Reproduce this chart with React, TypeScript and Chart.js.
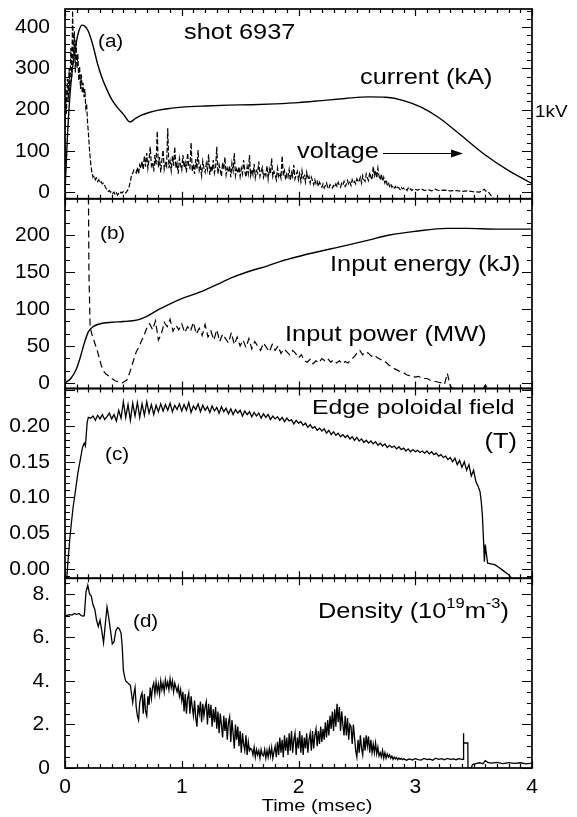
import { useEffect, useRef } from "react";
import { Chart, registerables } from "chart.js";
Chart.register(...registerables);

const FONT = "'Liberation Sans', Arial, Helvetica, sans-serif";
const SX = 1.18; // horizontal stretch of annotation text

// ---------- shared x axis ----------
const X_TICKS = [0, 1, 2, 3, 4];
const X_LABELS = ["0", "1", "2", "3", "4"];

// ---------- panel (a) ----------
const A_TICKS = [0, 100, 200, 300, 400];
const CURRENT_T = [0, 0.02, 0.04, 0.06, 0.08, 0.10, 0.12, 0.145, 0.17, 0.20, 0.24, 0.28, 0.32, 0.36, 0.40, 0.45, 0.50, 0.557, 0.60, 0.65, 0.72, 0.80, 0.90, 1.0, 1.2, 1.4, 1.6, 1.8, 2.0, 2.2, 2.4, 2.6, 2.75, 2.9, 3.05, 3.2, 3.4, 3.6, 3.8, 4.0];
const CURRENT_KA = [0, 130, 225, 290, 335, 368, 392, 405, 402, 390, 355, 310, 275, 248, 225, 205, 189, 170, 178, 186, 193, 199, 203, 206, 209, 211, 212, 214, 217, 222, 227, 231, 230, 222, 206, 181, 136, 90, 52, 21];

const VOLT_EARLY_T = [0, 0.005, 0.012, 0.02, 0.028, 0.035, 0.042, 0.05, 0.058, 0.065, 0.072, 0.08, 0.088, 0.095, 0.103, 0.11, 0.118, 0.125, 0.133, 0.14, 0.148, 0.155, 0.163, 0.17, 0.178, 0.185, 0.193, 0.2,
  0.21, 0.22, 0.23, 0.24, 0.25, 0.26, 0.27, 0.28, 0.29, 0.30,
  0.31, 0.32, 0.33, 0.34, 0.35, 0.36, 0.37, 0.38, 0.39, 0.40,
  0.41, 0.42, 0.43, 0.44, 0.45, 0.46, 0.47, 0.48, 0.49, 0.50,
  0.51, 0.52, 0.53, 0.54, 0.55, 0.56, 0.57, 0.58, 0.59];
const VOLT_EARLY = [0, 250, 190, 275, 220, 300, 240, 350, 280, 440, 310, 390, 290, 370, 300, 335, 270, 305, 250, 285, 240, 265, 230, 250, 205, 215, 170, 145,
  102, 70, 48, 36, 40, 30, 34, 26, 30, 22,
  25, 20, 22, 16, 10, 6, 2, 4, 0, 2,
  -3, 0, -6, -2, -7, -3, -5, 0, -2, 2,
  0, -2, 2, 6, 14, 26, 42, 46, 54];
const VOLT_NOISE_T0 = 0.6;
const VOLT_NOISE_DT = 0.01;
const VOLT_NOISE = [
  52, 47, 60, 44, 66, 58, 75, 55, 88, 62,
  95, 58, 80, 110, 64, 72, 50, 90, 66, 148,
  60, 85, 48, 78, 102, 55, 70, 62, 155, 58,
  75, 52, 88, 64, 110, 58, 70, 45, 82, 66,
  54, 90, 60, 72, 48, 95, 62, 58, 120, 50,
  68, 44, 80, 56, 102, 52, 62, 40, 75, 58,
  48, 70, 55, 92, 42, 64, 50, 78, 46, 60,
  110, 44, 66, 52, 38, 72, 55, 85, 42, 58,
  48, 64, 36, 70, 52, 95, 40, 56, 46, 62,
  38, 58, 44, 78, 50, 36, 62, 45, 90, 40,
  55, 42, 68, 35, 52, 46, 74, 38, 50, 60,
  36, 48, 40, 64, 32, 56, 44, 82, 38, 50,
  42, 30, 58, 38, 46, 34, 88, 40, 52, 30,
  44, 36, 55, 28, 48, 38, 66, 32, 42, 50,
  30, 45, 26, 52, 34, 40, 24, 48, 32, 38,
  22, 36, 28, 18, 30, 20, 26, 14, 24, 18,
  12, 20, 10, 16, 22, 12, 8, 18, 14, 10,
  16, 12, 20, 14, 24, 16, 12, 22, 18, 26,
  14, 20, 28, 18, 24, 16, 30, 22, 26, 20,
  32, 24, 28, 36, 22, 40, 30, 26, 44, 34,
  28, 48, 36, 30, 62, 40, 52, 34, 58, 38,
  30, 44, 26, 36, 22, 30, 18, 24, 14, 20,
  12, 16, 10, 14, 8, 12, 10, 6, 12, 8,
  10, 6, 8, 4, 10, 6, 8, 4, 6, 8,
];
const VOLT_LATE_T = [3.02, 3.05, 3.08, 3.11, 3.14, 3.17, 3.2, 3.25, 3.3, 3.35, 3.4, 3.45, 3.5, 3.55, 3.59, 3.61, 3.63, 3.66, 3.7];
const VOLT_LATE = [5, 8, 4, 6, 3, 7, 4, 5, 3, 4, 2, 3, 1, 0, 7, 1, -1, -12, -30];

// ---------- panel (b) ----------
const B_TICKS = [0, 50, 100, 150, 200];
const ENERGY_T = [0, 0.05, 0.1, 0.13, 0.16, 0.2, 0.24, 0.28, 0.33, 0.4, 0.5, 0.58, 0.64, 0.7, 0.8, 0.9, 1.0, 1.16, 1.3, 1.44, 1.6, 1.73, 1.84, 2.0, 2.13, 2.27, 2.41, 2.6, 2.78, 3.0, 3.27, 3.44, 3.7, 4.0];
const ENERGY_KJ = [0, 6, 20, 34, 51, 69, 76, 79, 81, 82, 83, 84, 86, 90, 99, 107, 114, 123, 133, 143, 152, 158, 164, 171, 176, 181, 186, 193, 200, 205, 209, 209, 208, 208];

const POWER_EARLY_T = [0.01, 0.195, 0.205, 0.215, 0.23, 0.25, 0.27, 0.29, 0.31, 0.33, 0.35, 0.37, 0.39, 0.41, 0.43, 0.45, 0.47, 0.49, 0.51, 0.53, 0.55, 0.57, 0.59, 0.61, 0.63, 0.65, 0.67, 0.69, 0.71];
const POWER_EARLY = [400, 400, 150, 76, 66, 56, 47, 36, 24, 16, 12, 10, 7, 5, 3, 2, 1, 0, 2, 4, 12, 22, 32, 42, 48, 55, 62, 70, 78];
const POWER_NOISE_T0 = 0.725;
const POWER_NOISE_DT = 0.025;
const POWER_NOISE = [
  80, 72, 84, 58, 66, 82, 76, 86, 70, 78,
  72, 80, 68, 76, 70, 82, 66, 74, 64, 79,
  62, 70, 58, 72, 56, 66, 60, 54, 68, 52,
  62, 50, 58, 48, 60, 46, 56, 50, 44, 54,
  48, 42, 52, 44, 50, 40, 46, 42, 38, 44,
  40, 34, 38, 30, 28, 32, 26, 30, 27, 33,
  30, 33, 28, 31, 27, 30, 26, 29, 27, 32,
  35, 40, 44, 38, 42, 40, 36, 38, 34, 32,
  30, 28, 24, 22, 19, 17, 15, 14, 11, 10,
  9, 8, 9, 7, 6, 6, 4, 3, 2, 1,
  0, -2, 13, -4, -8,
];
const POWER_LATE_T = [3.33, 3.58, 3.6, 3.62];
const POWER_LATE = [null, -8, -3, -8];

// ---------- panel (c) ----------
const C_TICKS = [0, 0.05, 0.1, 0.15, 0.2];
const C_LABELS = ["0.00", "0.05", "0.10", "0.15", "0.20"];
const FIELD_EARLY_T = [0, 0.015, 0.025, 0.04, 0.055, 0.07, 0.09, 0.11, 0.13, 0.15, 0.165, 0.175, 0.19, 0.2];
const FIELD_EARLY = [-0.02, -0.014, 0.01, 0.04, 0.065, 0.087, 0.11, 0.134, 0.152, 0.17, 0.176, 0.172, 0.205, 0.212];
const FIELD_NOISE_T0 = 0.22;
const FIELD_NOISE_DT = 0.02;
const FIELD_NOISE = [
  0.211, 0.214, 0.208, 0.215, 0.210, 0.216, 0.209, 0.213, 0.218, 0.210,
  0.216, 0.207, 0.222, 0.211, 0.234, 0.212, 0.230, 0.208, 0.232, 0.214,
  0.233, 0.212, 0.231, 0.215, 0.234, 0.218, 0.230, 0.216, 0.229, 0.220,
  0.231, 0.221, 0.230, 0.222, 0.232, 0.220, 0.229, 0.223, 0.231, 0.221,
  0.230, 0.222, 0.233, 0.219, 0.228, 0.223, 0.231, 0.220, 0.229, 0.222,
  0.227, 0.219, 0.228, 0.221, 0.226, 0.218, 0.227, 0.220, 0.225, 0.217,
  0.224, 0.216, 0.223, 0.218, 0.222, 0.214, 0.221, 0.216, 0.220, 0.213,
  0.219, 0.214, 0.218, 0.211, 0.217, 0.212, 0.216, 0.209, 0.214, 0.210,
  0.213, 0.208, 0.212, 0.206, 0.211, 0.207, 0.209, 0.203, 0.208, 0.204,
  0.206, 0.201, 0.204, 0.198, 0.202, 0.197, 0.199, 0.194, 0.197, 0.193,
  0.196, 0.190, 0.194, 0.188, 0.192, 0.187, 0.190, 0.185, 0.188, 0.184,
  0.187, 0.182, 0.185, 0.180, 0.184, 0.179, 0.182, 0.177, 0.180, 0.176,
  0.179, 0.175, 0.178, 0.173, 0.176, 0.172, 0.175, 0.170, 0.173, 0.170,
  0.172, 0.168, 0.171, 0.167, 0.169, 0.165, 0.168, 0.164, 0.167, 0.164,
  0.166, 0.163, 0.165, 0.162, 0.165, 0.161, 0.164, 0.160, 0.162, 0.158,
  0.160, 0.156, 0.158, 0.153, 0.156, 0.150, 0.155, 0.146, 0.152, 0.142,
  0.150, 0.138, 0.146, 0.130, 0.138, 0.122, 0.115,
];
const FIELD_LATE_T = [3.555, 3.565, 3.575, 3.585, 3.592, 3.6, 3.61, 3.62, 3.65, 3.68, 3.7, 3.75, 3.8, 3.86];
const FIELD_LATE = [0.108, 0.095, 0.075, 0.04, 0.01, 0.034, 0.02, 0.008, 0.007, 0.006, 0.004, -0.002, -0.008, -0.02];

// ---------- panel (d) ----------
const D_TICKS = [0, 2, 4, 6, 8];
const D_LABELS = ["0", "2.", "4.", "6.", "8."];
const DENS_EARLY_T = [0, 0.02, 0.04, 0.06, 0.08, 0.1, 0.12, 0.14, 0.155, 0.165, 0.18, 0.195, 0.21, 0.225, 0.24, 0.255, 0.27, 0.285, 0.3, 0.315, 0.33, 0.345, 0.36, 0.375, 0.39, 0.405, 0.42, 0.435, 0.45, 0.465, 0.48, 0.49];
const DENS_EARLY = [7.0, 7.02, 7.05, 7.03, 7.1, 7.06, 7.1, 7.0, 6.98, 7.0, 8.1, 8.4, 8.0, 7.9, 7.5, 7.3, 6.8, 6.5, 6.8, 6.3, 5.75, 6.6, 7.4, 6.9, 6.3, 5.7, 5.8, 6.3, 6.45, 6.4, 6.2, 5.6];
const DENS_NOISE_T0 = 0.5;
const DENS_NOISE_DT = 0.01;
const DENS_NOISE = [
  4.5, 4.2, 4.0, 3.95, 3.9, 3.85, 3.8, 3.4, 3.0, 3.4,
  3.7, 2.8, 2.4, 2.2, 3.0, 3.3, 3.45, 2.5, 3.4, 2.6,
  2.4, 3.3, 2.9, 3.7, 3.2, 3.7, 3.9, 3.4, 3.95, 3.5,
  3.85, 3.4, 4.0, 3.6, 3.9, 3.5, 4.05, 3.7, 3.95, 3.6,
  4.1, 3.7, 4.0, 3.5, 3.9, 3.7, 3.5, 3.75, 3.3, 3.6,
  3.1, 3.5, 2.6, 3.4, 2.5, 3.2, 3.45, 2.5, 3.3, 2.8,
  2.4, 3.1, 2.3, 1.9, 2.9, 2.5, 3.05, 2.1, 2.95, 2.4,
  2.8, 3.05, 2.0, 2.95, 2.3, 2.9, 1.9, 2.7, 2.1, 2.8,
  1.8, 2.6, 1.6, 2.5, 2.0, 1.4, 2.4, 1.7, 2.3, 1.3,
  2.1, 2.35, 1.2, 2.2, 1.6, 0.9, 2.0, 1.3, 1.9, 1.0,
  1.7, 0.7, 1.6, 1.1, 0.8, 1.5, 0.6, 1.2, 0.8, 0.9,
  0.85, 0.6, 0.95, 0.5, 0.85, 0.6, 0.8, 0.45, 0.85, 0.6,
  0.55, 0.85, 0.45, 0.8, 0.5, 0.9, 0.55, 0.95, 0.45, 0.75,
  1.0, 0.5, 1.2, 0.6, 1.4, 0.7, 1.3, 0.5, 1.5, 0.8,
  1.4, 0.6, 1.6, 0.8, 1.7, 0.7, 1.3, 1.6, 0.6, 1.4,
  0.9, 1.7, 0.7, 1.5, 0.6, 1.4, 0.9, 1.6, 0.7, 1.3,
  1.6, 0.8, 1.7, 0.9, 1.5, 1.8, 1.0, 1.7, 1.1, 1.9,
  1.2, 1.8, 1.3, 2.1, 1.4, 2.2, 1.5, 2.4, 1.8, 2.6,
  1.7, 2.7, 1.9, 2.95, 2.1, 2.8, 1.7, 2.6, 2.0, 1.5,
  2.4, 1.5, 2.3, 1.3, 2.0, 1.9, 1.1, 2.0, 1.4, 0.8,
  0.5, 1.3, 0.7, 1.5, 0.9, 0.6, 1.4, 0.8, 1.5, 1.0,
  1.45, 0.7, 1.3, 0.7, 1.1, 0.7, 1.15, 0.65, 0.95, 0.55,
  0.7, 0.5, 0.8, 0.45, 0.7, 0.45, 0.65, 0.5, 0.6, 0.45,
  0.55, 0.4, 0.5, 0.42, 0.48, 0.38, 0.46, 0.4, 0.44, 0.38,
  0.42,
];
const DENS_LATE_T = [2.925, 2.95, 2.975, 3.0, 3.025, 3.05, 3.075, 3.1, 3.125, 3.15, 3.175, 3.2, 3.225, 3.25, 3.275, 3.3, 3.325, 3.35, 3.375, 3.4, 3.41, 3.412, 3.416, 3.45, 3.452, 3.48, 3.49, 3.52, 3.55, 3.58, 3.6, 3.62, 3.65, 3.7, 3.75, 3.8, 3.85, 3.9, 3.95, 4.0];
const DENS_LATE = [0.36, 0.42, 0.37, 0.43, 0.38, 0.36, 0.44, 0.39, 0.41, 0.36, 0.45, 0.4, 0.43, 0.38, 0.44, 0.4, 0.42, 0.38, 0.43, 0.4, 0.4, 1.6, 1.15, 1.15, 0, 0, 0.16, 0.2, 0.24, 0.2, 0.34, 0.26, 0.22, 0.26, 0.2, 0.25, 0.21, 0.24, 0.19, 0.22];

// ---------- helpers ----------
type P = { x: number; y: number | null };
const pts = (t: number[], v: (number | null)[]): P[] => t.map((x, i) => ({ x, y: v[i] }));
const grid = (t0: number, dt: number, v: number[]): P[] => v.map((y, i) => ({ x: +(t0 + i * dt).toFixed(4), y }));

// panel layout: id, range, ticks
const PANELS = [
  { id: "ya", min: -16, max: 444, major: 100, minor: 20, weight: 4 },
  { id: "yb", min: -7.5, max: 249, major: 50, minor: 50 / 3, weight: 3 },
  { id: "yc", min: -0.013, max: 0.2525, major: 0.05, minor: 0.01, weight: 2 },
  { id: "yd", min: 0, max: 8.72, major: 2, minor: 0.5, weight: 1 },
];

const NOTES: { text: string; x: number; y: number; size: number; align?: CanvasTextAlign }[] = [
  { text: "shot 6937", x: 184, y: 33, size: 21.5 },
  { text: "(a)", x: 98, y: 42, size: 17.5 },
  { text: "current (kA)", x: 360, y: 78, size: 21.5 },
  { text: "voltage", x: 297, y: 152, size: 21.5 },
  { text: "1kV", x: 535, y: 113, size: 16 },
  { text: "(b)", x: 100, y: 234, size: 17.5 },
  { text: "Input energy (kJ)", x: 330, y: 265, size: 21.5 },
  { text: "Input power (MW)", x: 285, y: 335, size: 21.5 },
  { text: "(c)", x: 105, y: 455, size: 17.5 },
  { text: "Edge poloidal field", x: 312, y: 408, size: 21 },
  { text: "(T)", x: 517, y: 442, size: 21.5, align: "right" },
  { text: "(d)", x: 133, y: 622, size: 17.5 },
  { text: "Time (msec)", x: 317, y: 806, size: 17, align: "center" },
];

function sText(ctx: CanvasRenderingContext2D, text: string, x: number, y: number, size: number, align: CanvasTextAlign = "left") {
  ctx.save();
  ctx.font = `${size}px ${FONT}`;
  ctx.textBaseline = "middle";
  ctx.textAlign = align;
  ctx.fillStyle = "#000";
  ctx.translate(x, y);
  ctx.scale(SX, 1);
  ctx.fillText(text, 0, 0);
  ctx.restore();
}

const panelPlugin = {
  id: "panels",
  beforeDatasetDraw(chart: any, args: any) {
    const ys = chart.scales[args.meta.yAxisID];
    const ctx = chart.ctx;
    const { left, right } = chart.chartArea;
    ctx.save();
    ctx.beginPath();
    ctx.rect(left, ys.top, right - left, ys.bottom - ys.top);
    ctx.clip();
  },
  afterDatasetDraw(chart: any) {
    chart.ctx.restore();
  },
  afterDraw(chart: any) {
    const ctx: CanvasRenderingContext2D = chart.ctx;
    const { left, right } = chart.chartArea;
    const xs = chart.scales.x;
    ctx.save();
    ctx.strokeStyle = "#000";
    for (const p of PANELS) {
      const ys = chart.scales[p.id];
      ctx.lineWidth = 1.2;
      ctx.beginPath();
      const start = Math.ceil(p.min / p.minor - 1e-6);
      for (let k = start; k * p.minor <= p.max + 1e-9; k++) {
        const v = k * p.minor;
        const r = v / p.major;
        const isMajor = Math.abs(r - Math.round(r)) < 1e-6;
        const len = isMajor ? 10 : 5;
        const y = Math.round(ys.getPixelForValue(v)) + 0.5;
        ctx.moveTo(left, y);
        ctx.lineTo(left + len, y);
        ctx.moveTo(right, y);
        ctx.lineTo(right - len, y);
      }
      for (let k = 0; k <= 40; k++) {
        const x = Math.round(xs.getPixelForValue(k / 10)) + 0.5;
        const len = k % 10 === 0 ? 7 : 4;
        ctx.moveTo(x, ys.top);
        ctx.lineTo(x, ys.top + len);
        ctx.moveTo(x, ys.bottom);
        ctx.lineTo(x, ys.bottom - len);
      }
      ctx.stroke();
      ctx.lineWidth = 1.7;
      ctx.strokeRect(left, ys.top, right - left, ys.bottom - ys.top);
    }
    ctx.restore();

    for (const n of NOTES) sText(ctx, n.text, n.x, n.y, n.size, n.align || "left");

    // density label with superscripts
    ctx.save();
    let x = 318;
    const y = 612;
    const parts: [string, number, number][] = [["Density (10", 21.5, 0], ["19", 14, -8], ["m", 21.5, 0], ["-3", 14, -8], [")", 21.5, 0]];
    for (const [t, s, dy] of parts) {
      ctx.font = `${s}px ${FONT}`;
      sText(ctx, t, x, y + dy, s);
      x += ctx.measureText(t).width * SX;
    }
    ctx.restore();

    // voltage arrow
    ctx.save();
    ctx.strokeStyle = "#000";
    ctx.fillStyle = "#000";
    ctx.lineWidth = 1.2;
    ctx.beginPath();
    ctx.moveTo(383, 153.5);
    ctx.lineTo(453, 153.5);
    ctx.stroke();
    ctx.beginPath();
    ctx.moveTo(463, 153.5);
    ctx.lineTo(451, 149.5);
    ctx.lineTo(451, 157.5);
    ctx.closePath();
    ctx.fill();
    ctx.restore();
  },
};

function yScale(p: typeof PANELS[number], ticks: number[], labels: string[]) {
  return {
    type: "linear",
    position: "left",
    stack: "panels",
    stackWeight: 1,
    weight: p.weight,
    min: p.min,
    max: p.max,
    grid: { display: false, drawTicks: false },
    border: { display: false },
    ticks: {
      autoSkip: false,
      padding: 15,
      color: "#000",
      font: { family: FONT, size: 21 },
      callback: (_v: any, i: number) => labels[i],
    },
    afterBuildTicks: (s: any) => {
      s.ticks = ticks.map((value) => ({ value }));
    },
    afterFit: (s: any) => {
      s.width = 65;
      s.paddingTop = 0;
      s.paddingBottom = 0;
      s.paddingLeft = 0;
      s.paddingRight = 0;
    },
  };
}

export default function App() {
  const ref = useRef<HTMLCanvasElement | null>(null);
  useEffect(() => {
    if (!ref.current) return;
    const base = { borderColor: "#000", pointRadius: 0, fill: false, tension: 0, spanGaps: false };
    const chart = new Chart(ref.current, {
      type: "line",
      data: {
        datasets: [
          { ...base, label: "current (kA)", yAxisID: "ya", data: pts(CURRENT_T, CURRENT_KA), borderWidth: 1.4, cubicInterpolationMode: "monotone" },
          { ...base, label: "voltage", yAxisID: "ya", data: [...pts(VOLT_EARLY_T, VOLT_EARLY), ...grid(VOLT_NOISE_T0, VOLT_NOISE_DT, VOLT_NOISE), ...pts(VOLT_LATE_T, VOLT_LATE)], borderWidth: 1.2, borderDash: [5, 2] },
          { ...base, label: "Input energy (kJ)", yAxisID: "yb", data: pts(ENERGY_T, ENERGY_KJ), borderWidth: 1.4, cubicInterpolationMode: "monotone" },
          { ...base, label: "Input power (MW)", yAxisID: "yb", data: [...pts(POWER_EARLY_T, POWER_EARLY), ...grid(POWER_NOISE_T0, POWER_NOISE_DT, POWER_NOISE), ...pts(POWER_LATE_T, POWER_LATE)], borderWidth: 1.2, borderDash: [7, 4] },
          { ...base, label: "Edge poloidal field (T)", yAxisID: "yc", data: [...pts(FIELD_EARLY_T, FIELD_EARLY), ...grid(FIELD_NOISE_T0, FIELD_NOISE_DT, FIELD_NOISE), ...pts(FIELD_LATE_T, FIELD_LATE)], borderWidth: 1.3 },
          { ...base, label: "Density", yAxisID: "yd", data: [...pts(DENS_EARLY_T, DENS_EARLY), ...grid(DENS_NOISE_T0, DENS_NOISE_DT, DENS_NOISE), ...pts(DENS_LATE_T, DENS_LATE)], borderWidth: 1.3 },
        ] as any,
      },
      options: {
        animation: false,
        responsive: false,
        maintainAspectRatio: false,
        devicePixelRatio: 1,
        events: [],
        layout: { padding: { left: 0, right: 45, top: 9, bottom: 0 } },
        plugins: { legend: { display: false }, tooltip: { enabled: false } },
        scales: {
          x: {
            type: "linear",
            min: 0,
            max: 4,
            grid: { display: false, drawTicks: false },
            border: { display: false },
            ticks: {
              autoSkip: false,
              maxRotation: 0,
              padding: 7,
              color: "#000",
              font: { family: FONT, size: 21 },
              callback: (_v: any, i: number) => X_LABELS[i],
            },
            afterBuildTicks: (s: any) => {
              s.ticks = X_TICKS.map((value) => ({ value }));
            },
            afterFit: (s: any) => {
              s.height = 49;
              s.paddingLeft = 0;
              s.paddingRight = 0;
              s.paddingTop = 0;
              s.paddingBottom = 0;
            },
          },
          ya: yScale(PANELS[0], A_TICKS, A_TICKS.map(String)),
          yb: yScale(PANELS[1], B_TICKS, B_TICKS.map(String)),
          yc: yScale(PANELS[2], C_TICKS, C_LABELS),
          yd: yScale(PANELS[3], D_TICKS, D_LABELS),
        } as any,
      },
      plugins: [panelPlugin],
    });
    return () => chart.destroy();
  }, []);
  return (
    <div style={{ position: "absolute", left: 0, top: 0, width: 577, height: 817, background: "#fff" }}>
      <canvas ref={ref} width={577} height={817} style={{ display: "block" }} />
    </div>
  );
}
